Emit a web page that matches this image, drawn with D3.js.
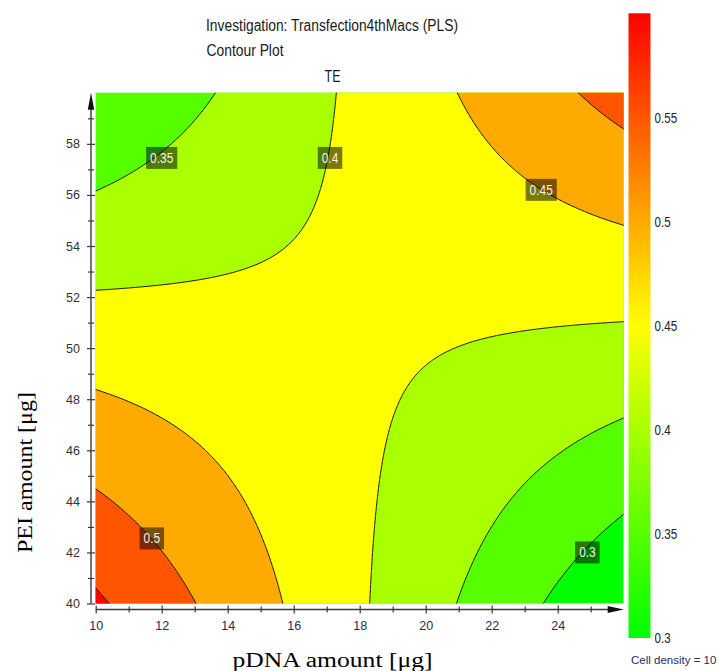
<!doctype html>
<html>
<head>
<meta charset="utf-8">
<style>
  body { margin: 0; background: #fff; }
  svg { display: block; }
  .sans { font-family: Arial, "Liberation Sans", sans-serif; }
  .serif { font-family: "Times New Roman", "Liberation Serif", serif; }
</style>
<script src="https://cdnjs.cloudflare.com/ajax/libs/d3/7.8.5/d3.min.js"></script>
</head>
<body>
<script>
// TE model (PLS), coefficients for scaled & centred factors
const modelTerms = ["Constant", "pDNA", "PEI", "pDNA*PEI"];
const modelCoefs = [0.4077, -0.02145, 0.00195, 0.1306];
const pdnaRange = [10, 26];
const peiRange = [40, 60];

const contourLevels = [0.3, 0.35, 0.4, 0.45, 0.5, 0.55];
const bandColors = ["#00ff00", "#55ff00", "#aaff00", "#ffff00", "#ffaa00", "#ff5500", "#ff0000"];

const xTicks = [10, 12, 14, 16, 18, 20, 22, 24];
const xMinorTicks = [11, 13, 15, 17, 19, 21, 23, 25];
const yTicks = [40, 42, 44, 46, 48, 50, 52, 54, 56, 58];
const yMinorTicks = [41, 43, 45, 47, 49, 51, 53, 55, 57, 59];

const legendRange = [0.3, 0.6];
const legendTicks = [0.3, 0.35, 0.4, 0.45, 0.5, 0.55];

// labelled contours, placed as in the original
const labelText = ["0.35", "0.4", "0.45", "0.5", "0.3"];
const labelPdna = [12.0, 17.1, 23.5, 11.7, 24.9];
const labelPei = [57.45, 57.45, 56.2, 42.55, 42.0];

const W = 720, H = 671;

const svg = d3.select("body").append("svg")
  .attr("width", W)
  .attr("height", H);

const xScale = d3.scaleLinear().domain(pdnaRange).range([95.7, 623.7]);
const yScale = d3.scaleLinear().domain(peiRange).range([603.5, 92.8]);

function te(pdna, pei) {
  const x1 = (pdna - (pdnaRange[0] + pdnaRange[1]) / 2) / ((pdnaRange[1] - pdnaRange[0]) / 2);
  const x2 = (pei - (peiRange[0] + peiRange[1]) / 2) / ((peiRange[1] - peiRange[0]) / 2);
  return modelCoefs[0] + modelCoefs[1] * x1 + modelCoefs[2] * x2 + modelCoefs[3] * x1 * x2;
}

// grid over the factor space (a little wider than the plot, clipped later)
const step = 0.05;
const gx0 = pdnaRange[0] - 0.2, gy0 = peiRange[0] - 0.2;
const nx = Math.round((pdnaRange[1] - pdnaRange[0] + 0.4) / step) + 1;
const ny = Math.round((peiRange[1] - peiRange[0] + 0.4) / step) + 1;
const grid = new Array(nx * ny);
for (let j = 0; j < ny; j++) {
  for (let i = 0; i < nx; i++) {
    grid[j * nx + i] = te(gx0 + i * step, gy0 + j * step);
  }
}

const contours = d3.contours().size([nx, ny]).thresholds(contourLevels)(grid);

const path = d3.geoPath(d3.geoTransform({
  point: function(x, y) {
    this.stream.point(xScale(gx0 + (x - 0.5) * step), yScale(gy0 + (y - 0.5) * step));
  }
}));

svg.append("clipPath").attr("id", "plotclip")
  .append("rect")
  .attr("x", xScale(pdnaRange[0]))
  .attr("y", yScale(peiRange[1]))
  .attr("width", xScale(pdnaRange[1]) - xScale(pdnaRange[0]))
  .attr("height", yScale(peiRange[0]) - yScale(peiRange[1]));

const plot = svg.append("g").attr("clip-path", "url(#plotclip)");

plot.append("rect")
  .attr("x", xScale(pdnaRange[0]))
  .attr("y", yScale(peiRange[1]))
  .attr("width", xScale(pdnaRange[1]) - xScale(pdnaRange[0]))
  .attr("height", yScale(peiRange[0]) - yScale(peiRange[1]))
  .attr("fill", bandColors[0]);

plot.selectAll("path.band")
  .data(contours)
  .enter()
  .append("path")
  .attr("class", "band")
  .attr("d", path)
  .attr("fill", (d, i) => bandColors[i + 1]);

plot.selectAll("path.line")
  .data(contours)
  .enter()
  .append("path")
  .attr("class", "line")
  .attr("d", path)
  .attr("fill", "none")
  .attr("stroke", "#111")
  .attr("stroke-width", 1);

// contour labels
const labels = plot.selectAll("g.clabel")
  .data(labelText)
  .enter()
  .append("g")
  .attr("class", "clabel")
  .attr("transform", (d, i) => "translate(" + xScale(labelPdna[i]) + "," + yScale(labelPei[i]) + ")");

labels.append("rect").attr("class", "lbox");
labels.append("text")
  .attr("class", "sans")
  .attr("text-anchor", "middle")
  .attr("dy", "0.36em")
  .attr("font-size", "14px")
  .attr("fill", "#f2f2f2")
  .text(d => d);

labels.each(function() {
  const g = d3.select(this);
  const t = g.select("text");
  const w = t.node().getComputedTextLength() * 0.85;
  t.attr("textLength", w).attr("lengthAdjust", "spacingAndGlyphs");
  g.select("rect")
    .attr("x", -w / 2 - 4)
    .attr("y", -11)
    .attr("width", w + 8)
    .attr("height", 22)
    .attr("fill", "#000")
    .attr("fill-opacity", 0.52);
});

// axes
const axisColor = "#3a3a3a";
const yAxisX = 91, xAxisY = 609.5;

function crossTicks(g, len, vertical) {
  g.select(".domain").remove();
  g.selectAll(".tick line")
    .attr("stroke", axisColor)
    .attr("stroke-width", 1.2)
    .attr(vertical ? "x1" : "y1", vertical ? len : -len);
}

svg.append("g")
  .attr("transform", "translate(" + yAxisX + ",0)")
  .call(d3.axisLeft(yScale).tickValues(yTicks).tickSize(4).tickPadding(7))
  .call(g => crossTicks(g, 4, true))
  .call(g => g.selectAll("text")
    .attr("font-family", "Arial, 'Liberation Sans', sans-serif")
    .attr("font-size", "12.5px")
    .attr("fill", "#333"));

svg.append("g")
  .attr("transform", "translate(" + yAxisX + ",0)")
  .call(d3.axisLeft(yScale).tickValues(yMinorTicks).tickSize(3).tickFormat(""))
  .call(g => crossTicks(g, 3, true));

svg.append("g")
  .attr("transform", "translate(0," + xAxisY + ")")
  .call(d3.axisBottom(xScale).tickValues(xTicks).tickSize(4).tickPadding(8))
  .call(g => crossTicks(g, 4, false))
  .call(g => g.selectAll("text")
    .attr("font-family", "Arial, 'Liberation Sans', sans-serif")
    .attr("font-size", "12.5px")
    .attr("fill", "#2a2a5e"));

svg.append("g")
  .attr("transform", "translate(0," + xAxisY + ")")
  .call(d3.axisBottom(xScale).tickValues(xMinorTicks).tickSize(3).tickFormat(""))
  .call(g => crossTicks(g, 3, false));

// axis lines with arrow heads
svg.append("line")
  .attr("x1", yAxisX).attr("x2", yAxisX)
  .attr("y1", yScale(peiRange[0])).attr("y2", yScale(peiRange[1]) + 10)
  .attr("stroke", axisColor).attr("stroke-width", 1.4);
svg.append("path")
  .attr("d", "M" + yAxisX + "," + yScale(peiRange[1]) + "l-3.2,17h6.4z")
  .attr("fill", "#111");

svg.append("line")
  .attr("x1", xScale(pdnaRange[0])).attr("x2", xScale(pdnaRange[1]) - 10)
  .attr("y1", xAxisY).attr("y2", xAxisY)
  .attr("stroke", axisColor).attr("stroke-width", 1.4);
svg.append("path")
  .attr("d", "M" + xScale(pdnaRange[1]) + "," + xAxisY + "l-16,-3.5v7z")
  .attr("fill", "#111");

// titles
svg.append("text").attr("class", "sans")
  .attr("x", 206).attr("y", 31)
  .attr("font-size", "16px").attr("fill", "#1a1a1a")
  .attr("textLength", 252).attr("lengthAdjust", "spacingAndGlyphs")
  .text("Investigation: Transfection4thMacs (PLS)");

svg.append("text").attr("class", "sans")
  .attr("x", 206.5).attr("y", 56)
  .attr("font-size", "16px").attr("fill", "#1a1a1a")
  .attr("textLength", 77).attr("lengthAdjust", "spacingAndGlyphs")
  .text("Contour Plot");

svg.append("text").attr("class", "sans")
  .attr("x", 324.5).attr("y", 81.5)
  .attr("font-size", "16px").attr("fill", "#1a1a1a")
  .attr("textLength", 16).attr("lengthAdjust", "spacingAndGlyphs")
  .text("TE");

svg.append("text").attr("class", "serif")
  .attr("x", 232.5).attr("y", 666.5)
  .attr("font-size", "20px").attr("fill", "#000")
  .attr("textLength", 200).attr("lengthAdjust", "spacingAndGlyphs")
  .text("pDNA amount [μg]");

svg.append("text").attr("class", "serif")
  .attr("transform", "translate(31.5,553) rotate(-90)")
  .attr("font-size", "20px").attr("fill", "#000")
  .attr("textLength", 161).attr("lengthAdjust", "spacingAndGlyphs")
  .text("PEI amount [μg]");

// colour legend
const legendY = d3.scaleLinear().domain(legendRange).range([637.5, 13.3]);

const grad = svg.append("defs").append("linearGradient")
  .attr("id", "legendgrad")
  .attr("x1", 0).attr("y1", 1).attr("x2", 0).attr("y2", 0);
grad.append("stop").attr("offset", "0%").attr("stop-color", "#00ff00");
grad.append("stop").attr("offset", "50%").attr("stop-color", "#ffff00");
grad.append("stop").attr("offset", "100%").attr("stop-color", "#ff0000");

svg.append("rect")
  .attr("x", 628.5)
  .attr("y", legendY(legendRange[1]))
  .attr("width", 22)
  .attr("height", legendY(legendRange[0]) - legendY(legendRange[1]) + 0.5)
  .attr("fill", "url(#legendgrad)");

svg.append("g")
  .selectAll("text")
  .data(legendTicks)
  .enter()
  .append("text")
  .attr("class", "sans")
  .attr("x", 654.5)
  .attr("y", d => legendY(d))
  .attr("dy", "0.36em")
  .attr("font-size", "14.5px")
  .attr("fill", "#222")
  .text(d => d3.format("")(d))
  .each(function() {
    const t = d3.select(this);
    t.attr("textLength", this.getComputedTextLength() * 0.8).attr("lengthAdjust", "spacingAndGlyphs");
  });

svg.append("text").attr("class", "sans")
  .attr("x", 631).attr("y", 664)
  .attr("font-size", "11.5px").attr("fill", "#2a2a5e")
  .text("Cell density = 10");
</script>
</body>
</html>
